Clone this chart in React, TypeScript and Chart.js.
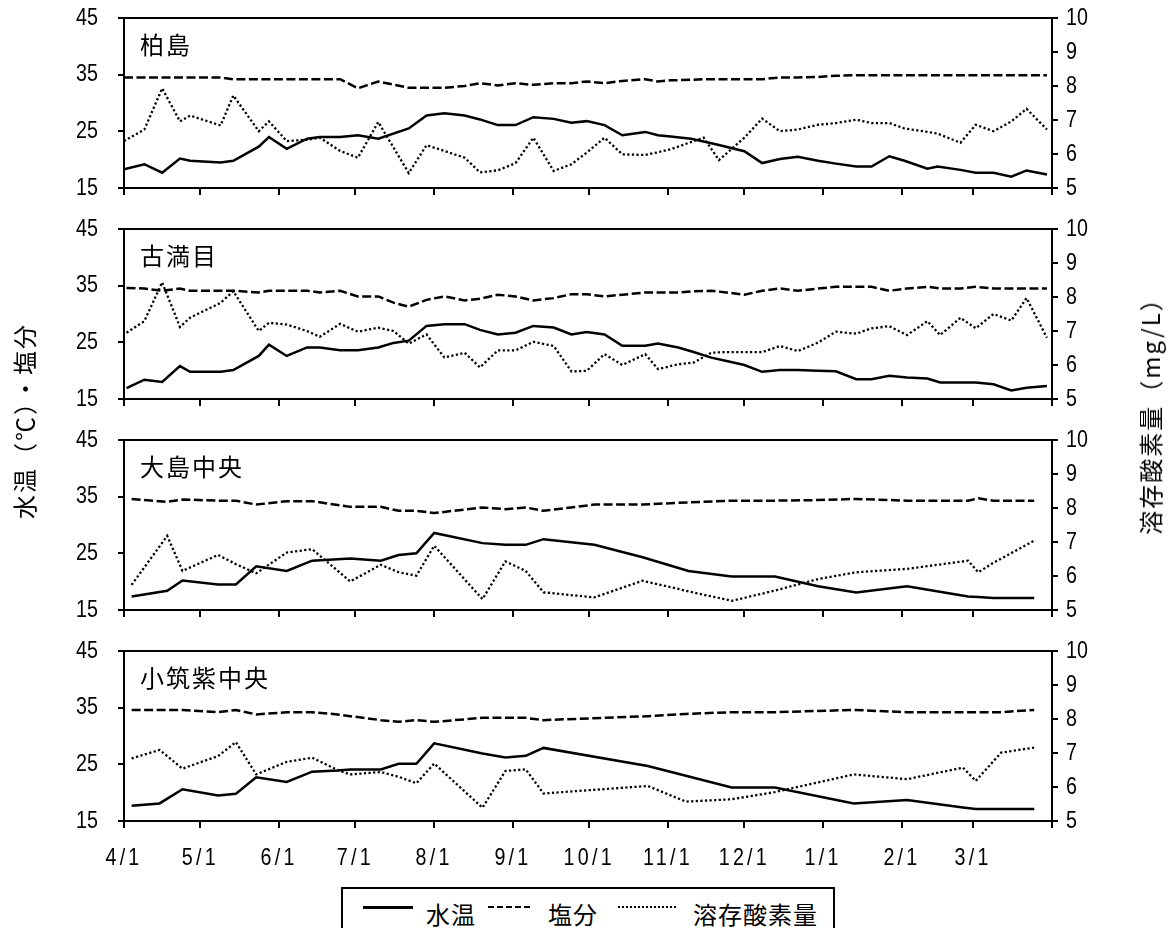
import React, { useEffect, useRef } from "react";
import { Chart, registerables, LinearScale } from "chart.js";

Chart.register(...registerables);

// Linear scale whose tick labels are drawn horizontally condensed (narrow face look)
class CondensedLinearScale extends LinearScale {
  static id = "condensedLinear";
  drawLabels(chartArea: any) {
    const ctx: any = this.ctx;
    const origTranslate = ctx.translate;
    const prevSpacing = ctx.letterSpacing;
    ctx.translate = function (x: number, y: number) {
      origTranslate.call(this, x, y);
      this.scale(0.82, 1);
    };
    ctx.letterSpacing = this.isHorizontal() ? "4px" : "0px";
    try {
      super.drawLabels(chartArea);
    } finally {
      ctx.translate = origTranslate;
      ctx.letterSpacing = prevSpacing || "0px";
    }
  }
}
Chart.register(CondensedLinearScale as any);

// ---------- data ----------
// x = days since 4/1
const MONTH_TICK_DAYS = [0, 30, 61, 91, 122, 153, 183, 214, 244, 275, 306, 334, 365];
const MONTH_LABELS = ["4/1", "5/1", "6/1", "7/1", "8/1", "9/1", "10/1", "11/1", "12/1", "1/1", "2/1", "3/1", ""];
const LEFT_TICKS = [15, 25, 35, 45];
const RIGHT_TICKS = [5, 6, 7, 8, 9, 10];

const SERIES_NAMES = ["水温", "塩分", "溶存酸素量"];
const STATION_NAMES = ["柏島", "古満目", "大島中央", "小筑紫中央"];

// 柏島
const KASHIWAJIMA_DAYS = [0, 8, 15, 22, 26, 38, 43, 53, 57, 64, 72, 77, 85, 92, 100, 112, 119, 126, 134, 140, 147, 154, 161, 169, 176, 182, 189, 196, 205, 210, 215, 223, 228, 234, 244, 251, 258, 265, 273, 280, 288, 294, 301, 307, 316, 320, 329, 335, 342, 349, 355, 363];
const KASHIWAJIMA_TEMP = [18.3, 19.2, 17.7, 20.2, 19.8, 19.5, 19.8, 22.3, 24.0, 21.9, 23.7, 24.0, 24.0, 24.3, 23.7, 25.5, 27.8, 28.2, 27.8, 27.1, 26.1, 26.1, 27.5, 27.2, 26.5, 26.8, 26.1, 24.3, 24.9, 24.3, 24.1, 23.7, 23.2, 22.6, 21.5, 19.4, 20.1, 20.5, 19.8, 19.3, 18.8, 18.8, 20.6, 19.8, 18.4, 18.8, 18.2, 17.7, 17.7, 17.0, 18.1, 17.4];
const KASHIWAJIMA_SAL = [34.5, 34.5, 34.5, 34.5, 34.5, 34.5, 34.2, 34.2, 34.2, 34.2, 34.2, 34.2, 34.2, 32.6, 33.8, 32.7, 32.7, 32.7, 33.0, 33.5, 33.1, 33.5, 33.2, 33.5, 33.5, 33.8, 33.5, 33.9, 34.2, 33.8, 34.0, 34.1, 34.2, 34.2, 34.2, 34.2, 34.5, 34.5, 34.6, 34.8, 34.9, 34.9, 34.9, 34.9, 34.9, 34.9, 34.9, 34.9, 34.9, 34.9, 34.9, 34.9];
const KASHIWAJIMA_DO = [6.38, 6.72, 7.93, 6.96, 7.13, 6.84, 7.72, 6.67, 6.96, 6.38, 6.42, 6.48, 6.09, 5.89, 6.94, 5.44, 6.26, 6.09, 5.89, 5.46, 5.52, 5.73, 6.48, 5.50, 5.70, 6.04, 6.48, 5.99, 5.97, 6.05, 6.14, 6.35, 6.48, 5.82, 6.48, 7.04, 6.67, 6.72, 6.86, 6.91, 7.01, 6.91, 6.91, 6.75, 6.65, 6.60, 6.33, 6.86, 6.67, 6.96, 7.33, 6.72];

// 古満目
const KOMAME_DAYS = [1, 8, 15, 22, 26, 38, 43, 53, 57, 64, 72, 77, 85, 92, 100, 106, 112, 119, 126, 134, 140, 147, 154, 161, 169, 176, 182, 189, 196, 205, 210, 218, 224, 231, 237, 244, 251, 258, 265, 273, 280, 288, 294, 301, 308, 316, 321, 329, 335, 342, 349, 355, 363];
const KOMAME_TEMP = [16.9, 18.4, 18.0, 20.8, 19.8, 19.8, 20.1, 22.6, 24.6, 22.6, 24.1, 24.1, 23.6, 23.6, 24.1, 24.9, 25.3, 27.9, 28.2, 28.2, 27.2, 26.4, 26.7, 27.9, 27.6, 26.4, 26.8, 26.4, 24.4, 24.4, 24.8, 24.1, 23.3, 22.3, 21.7, 21.0, 19.8, 20.1, 20.1, 20.0, 19.9, 18.5, 18.5, 19.1, 18.8, 18.6, 17.9, 17.9, 17.9, 17.6, 16.5, 17.0, 17.3];
const KOMAME_SAL = [34.6, 34.5, 34.1, 34.5, 34.1, 34.1, 34.1, 33.8, 34.1, 34.1, 34.1, 33.8, 34.1, 33.1, 33.1, 32.0, 31.3, 32.5, 33.1, 32.4, 32.7, 33.4, 33.1, 32.4, 32.8, 33.5, 33.5, 33.1, 33.4, 33.8, 33.8, 33.8, 34.0, 34.1, 33.8, 33.4, 34.1, 34.5, 34.1, 34.5, 34.8, 34.8, 34.8, 34.1, 34.5, 34.8, 34.5, 34.5, 34.8, 34.5, 34.5, 34.5, 34.5];
const KOMAME_DO = [6.95, 7.29, 8.43, 7.12, 7.39, 7.83, 8.17, 7.00, 7.24, 7.19, 7.00, 6.83, 7.21, 6.98, 7.10, 7.00, 6.63, 6.90, 6.22, 6.36, 5.93, 6.43, 6.43, 6.68, 6.56, 5.81, 5.83, 6.32, 6.00, 6.32, 5.88, 6.02, 6.07, 6.36, 6.38, 6.38, 6.38, 6.56, 6.41, 6.66, 6.98, 6.92, 7.08, 7.14, 6.88, 7.29, 6.88, 7.39, 7.08, 7.50, 7.31, 7.97, 6.80];

// 大島中央
const OSHIMA_DAYS = [3, 17, 23, 37, 44, 52, 64, 74, 89, 101, 108, 115, 122, 141, 150, 158, 165, 185, 204, 222, 239, 256, 273, 288, 308, 332, 336, 342, 358];
const OSHIMA_TEMP = [17.4, 18.4, 20.2, 19.5, 19.5, 22.7, 21.9, 23.7, 24.1, 23.7, 24.7, 25.0, 28.6, 26.8, 26.5, 26.5, 27.5, 26.5, 24.3, 21.9, 20.9, 20.9, 19.2, 18.1, 19.2, 17.4, 17.3, 17.1, 17.1];
const OSHIMA_SAL = [34.6, 34.1, 34.5, 34.3, 34.3, 33.6, 34.2, 34.2, 33.2, 33.2, 32.5, 32.5, 32.1, 33.1, 32.8, 33.1, 32.5, 33.6, 33.6, 34.0, 34.3, 34.3, 34.4, 34.6, 34.3, 34.3, 34.7, 34.3, 34.3];
const OSHIMA_DO = [5.74, 7.18, 6.15, 6.62, 6.35, 6.08, 6.69, 6.79, 5.84, 6.33, 6.11, 6.01, 6.89, 5.32, 6.43, 6.15, 5.52, 5.37, 5.86, 5.55, 5.27, 5.57, 5.91, 6.11, 6.21, 6.45, 6.11, 6.39, 7.04];

// 小筑紫中央
const KOTSUKUSHI_DAYS = [3, 14, 23, 37, 44, 52, 64, 74, 84, 89, 101, 108, 115, 122, 141, 150, 158, 165, 206, 221, 239, 256, 287, 308, 330, 335, 345, 358];
const KOTSUKUSHI_TEMP = [17.7, 18.1, 20.6, 19.5, 19.8, 22.7, 21.9, 23.7, 23.9, 24.1, 24.1, 25.1, 25.1, 28.7, 26.9, 26.2, 26.5, 27.9, 24.7, 23.0, 20.9, 20.9, 18.1, 18.7, 17.4, 17.1, 17.1, 17.1];
const KOTSUKUSHI_SAL = [34.6, 34.6, 34.6, 34.2, 34.6, 33.8, 34.2, 34.2, 33.8, 33.5, 32.8, 32.5, 32.8, 32.5, 33.2, 33.2, 33.2, 32.8, 33.5, 33.9, 34.2, 34.2, 34.6, 34.2, 34.2, 34.2, 34.2, 34.6];
const KOTSUKUSHI_DO = [6.84, 7.09, 6.54, 6.91, 7.32, 6.37, 6.74, 6.86, 6.50, 6.37, 6.44, 6.30, 6.11, 6.69, 5.39, 6.47, 6.52, 5.81, 6.03, 5.57, 5.64, 5.85, 6.37, 6.23, 6.57, 6.18, 7.01, 7.16];

// ---------- layout ----------
const W = 1172;
const PANEL_TOPS = [18, 229, 440, 651];
const PLOT_H = 170;
const PAD_TOP = 36;
const LEFT_W = 124;
const RIGHT_W = 120;

const NUM_FONT = '"Liberation Sans", Arial, sans-serif';
const JP_FONT = '"Noto Sans CJK JP", "Noto Sans CJK SC", sans-serif';

type PanelProps = {
  top: number;
  title: string;
  days: number[];
  temp: number[];
  sal: number[];
  dox: number[];
  showLabels: boolean;
};

function Panel({ top, title, days, temp, sal, dox, showLabels }: PanelProps) {
  const ref = useRef<HTMLCanvasElement>(null);
  const bottomH = showLabels ? 56 : 36;
  const h = PAD_TOP + PLOT_H + bottomH;

  useEffect(() => {
    if (!ref.current) return;
    const axisGrid = { drawOnChartArea: false, drawTicks: true, tickLength: 6, color: "#000", lineWidth: 2 };
    const axisBorder = { display: true, color: "#000", width: 2 };
    const chart = new Chart(ref.current, {
      type: "line",
      data: {
        datasets: [
          {
            label: SERIES_NAMES[0],
            data: days.map((d, i) => ({ x: d, y: temp[i] })),
            yAxisID: "yL",
            xAxisID: "x",
            borderColor: "#000",
            borderWidth: 2.5,
            pointRadius: 0,
            tension: 0,
            fill: false,
          },
          {
            label: SERIES_NAMES[1],
            data: days.map((d, i) => ({ x: d, y: sal[i] })),
            yAxisID: "yL",
            xAxisID: "x",
            borderColor: "#000",
            borderWidth: 2.5,
            borderDash: [9, 3.5],
            pointRadius: 0,
            tension: 0,
            fill: false,
          },
          {
            label: SERIES_NAMES[2],
            data: days.map((d, i) => ({ x: d, y: dox[i] })),
            yAxisID: "yR",
            xAxisID: "x",
            borderColor: "#000",
            borderWidth: 2.3,
            borderDash: [2.2, 2.4],
            pointRadius: 0,
            tension: 0,
            fill: false,
          },
        ],
      },
      options: {
        responsive: false,
        animation: false,
        devicePixelRatio: 1,
        layout: { padding: { top: PAD_TOP, bottom: 0, left: 0, right: 0 } },
        plugins: { legend: { display: false }, tooltip: { enabled: false } },
        scales: {
          x: {
            type: "condensedLinear" as any,
            position: "bottom",
            min: 0,
            max: 365,
            afterBuildTicks: (s: any) => {
              s.ticks = MONTH_TICK_DAYS.map((v) => ({ value: v }));
            },
            afterFit: (s: any) => {
              s.height = bottomH;
            },
            grid: { ...axisGrid, tickLength: 7 },
            border: axisBorder,
            ticks: {
              display: showLabels,
              autoSkip: false,
              maxRotation: 0,
              minRotation: 0,
              padding: 16,
              color: "#000",
              font: { family: NUM_FONT, size: 24 },
              callback: (_v: any, i: number) => MONTH_LABELS[i] ?? "",
            },
          },
          xTop: {
            type: "linear",
            position: "top",
            min: 0,
            max: 365,
            afterFit: (s: any) => {
              s.height = 0;
            },
            grid: { display: false },
            border: axisBorder,
            ticks: { display: false },
          },
          yL: {
            type: "condensedLinear" as any,
            position: "left",
            min: 15,
            max: 45,
            afterBuildTicks: (s: any) => {
              s.ticks = LEFT_TICKS.map((v) => ({ value: v }));
            },
            afterFit: (s: any) => {
              s.width = LEFT_W;
            },
            grid: axisGrid,
            border: axisBorder,
            ticks: { autoSkip: false, padding: 20, color: "#000", font: { family: NUM_FONT, size: 24 } },
          },
          yR: {
            type: "condensedLinear" as any,
            position: "right",
            min: 5,
            max: 10,
            afterBuildTicks: (s: any) => {
              s.ticks = RIGHT_TICKS.map((v) => ({ value: v }));
            },
            afterFit: (s: any) => {
              s.width = RIGHT_W;
            },
            grid: axisGrid,
            border: axisBorder,
            ticks: { autoSkip: false, padding: 8, color: "#000", font: { family: NUM_FONT, size: 24 } },
          },
        },
      } as any,
    });
    return () => chart.destroy();
  }, []);

  return (
    <>
      <canvas
        ref={ref}
        width={W}
        height={h}
        style={{ position: "absolute", left: 0, top: top - PAD_TOP, width: W, height: h }}
      />
      <div
        style={{
          position: "absolute",
          left: 140,
          top: top + 14,
          fontFamily: JP_FONT,
          fontSize: 24,
          lineHeight: "24px",
          letterSpacing: "2px",
          color: "#000",
          whiteSpace: "nowrap",
        }}
      >
        {title}
      </div>
    </>
  );
}

function VerticalTitle({ text, cx, cy }: { text: string; cx: number; cy: number }) {
  return (
    <div style={{ position: "absolute", left: cx, top: cy, width: 0, height: 0 }}>
      <div
        style={{
          position: "absolute",
          left: 0,
          top: 0,
          transform: "translate(-50%, -50%) rotate(-90deg)",
          fontFamily: JP_FONT,
          fontSize: 24,
          lineHeight: "24px",
          letterSpacing: "2px",
          whiteSpace: "nowrap",
          color: "#000",
        }}
      >
        {text}
      </div>
    </div>
  );
}

function LegendLine({ left, width, kind }: { left: number; width: number; kind: "solid" | "dash" | "dot" }) {
  let bg = "#000";
  if (kind === "dash") bg = "repeating-linear-gradient(to right, #000 0 6px, transparent 6px 9px)";
  if (kind === "dot") bg = "repeating-linear-gradient(to right, #000 0 2px, transparent 2px 4px)";
  return (
    <div
      style={{
        position: "absolute",
        left,
        top: 906,
        width,
        height: kind === "solid" ? 2.5 : 2,
        background: bg,
      }}
    />
  );
}

function LegendText({ left, text }: { left: number; text: string }) {
  return (
    <div
      style={{
        position: "absolute",
        left,
        top: 902,
        fontFamily: JP_FONT,
        fontSize: 24,
        lineHeight: "24px",
        letterSpacing: "1px",
        whiteSpace: "nowrap",
        color: "#000",
      }}
    >
      {text}
    </div>
  );
}

export default function App() {
  const panels = [
    { title: STATION_NAMES[0], days: KASHIWAJIMA_DAYS, temp: KASHIWAJIMA_TEMP, sal: KASHIWAJIMA_SAL, dox: KASHIWAJIMA_DO },
    { title: STATION_NAMES[1], days: KOMAME_DAYS, temp: KOMAME_TEMP, sal: KOMAME_SAL, dox: KOMAME_DO },
    { title: STATION_NAMES[2], days: OSHIMA_DAYS, temp: OSHIMA_TEMP, sal: OSHIMA_SAL, dox: OSHIMA_DO },
    { title: STATION_NAMES[3], days: KOTSUKUSHI_DAYS, temp: KOTSUKUSHI_TEMP, sal: KOTSUKUSHI_SAL, dox: KOTSUKUSHI_DO },
  ];
  return (
    <div
      style={{
        position: "absolute",
        left: 0,
        top: 0,
        width: W,
        height: 928,
        overflow: "hidden",
        background: "#fff",
      }}
    >
      {panels.map((p, i) => (
        <Panel key={i} top={PANEL_TOPS[i]} {...p} showLabels={i === 3} />
      ))}
      <VerticalTitle text="水温（℃）・塩分" cx={24} cy={421} />
      <VerticalTitle text="溶存酸素量（mg/L）" cx={1150} cy={410} />
      <div
        style={{
          position: "absolute",
          left: 341,
          top: 887,
          width: 490,
          height: 60,
          border: "2px solid #000",
          background: "#fff",
        }}
      />
      <LegendLine left={363} width={50} kind="solid" />
      <LegendText left={426} text={SERIES_NAMES[0]} />
      <LegendLine left={488} width={45} kind="dash" />
      <LegendText left={548} text={SERIES_NAMES[1]} />
      <LegendLine left={618} width={60} kind="dot" />
      <LegendText left={693} text={SERIES_NAMES[2]} />
    </div>
  );
}
